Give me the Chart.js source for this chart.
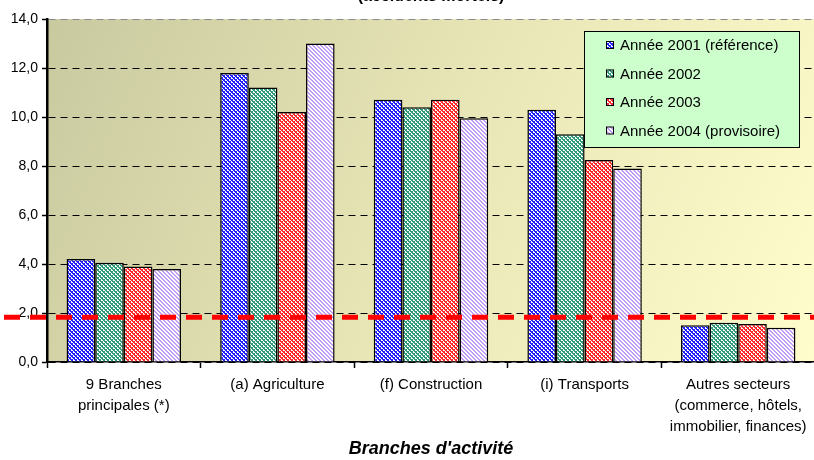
<!DOCTYPE html>
<html>
<head>
<meta charset="utf-8">
<script src="https://cdn.jsdelivr.net/npm/chart.js@4/dist/chart.umd.min.js"></script>
<style>
  html, body { margin: 0; padding: 0; background: #fff; width: 814px; height: 460px; overflow: hidden; }
  #wrap { position: absolute; left: 0; top: -15px; }
</style>
</head>
<body>
<div id="wrap"><canvas id="chart" width="862" height="475"></canvas></div>
<script>
const categories = [
  ['9 Branches', 'principales (*)'],
  '(a) Agriculture',
  '(f) Construction',
  '(i) Transports',
  ['Autres secteurs', '(commerce, hôtels,', 'immobilier, finances)']
];
const seriesNames = ['Année 2001 (référence)', 'Année 2002', 'Année 2003', 'Année 2004 (provisoire)'];
const year2001 = [4.2, 11.8, 10.7, 10.3, 1.5];
const year2002 = [4.05, 11.2, 10.4, 9.3, 1.6];
const year2003 = [3.9, 10.2, 10.7, 8.25, 1.55];
const year2004 = [3.8, 13.0, 9.95, 7.9, 1.4];
const refRate = 1.83;
const yTicks = [0, 2, 4, 6, 8, 10, 12, 14];

const FONT = '"Liberation Sans", Arial, sans-serif';

// small dotted hatch like the old office fills
function hatch(color, dense) {
  const c = document.createElement('canvas');
  c.width = 4; c.height = 4;
  const g = c.getContext('2d');
  g.fillStyle = '#fff';
  g.fillRect(0, 0, 4, 4);
  g.fillStyle = color;
  for (let y = 0; y < 4; y++) {
    for (let x = 0; x < 4; x++) {
      const d = (x - y + 8) % 4;
      if (d === 0 || (d === 1 && (dense || (x + y) % 2 === 1)) || (dense && d === 2 && y % 2 === 0)) {
        g.fillRect(x, y, 1, 1);
      }
    }
  }
  return g.createPattern(c, 'repeat');
}

const fills = [hatch('#2020ff', true), hatch('#2e9a78', true), hatch('#ff2a2a', true), hatch('#c39cf5', false)];
const values = [year2001, year2002, year2003, year2004];

const bgPlugin = {
  id: 'plotBg',
  beforeDraw(chart) {
    const a = chart.chartArea, ctx = chart.ctx;
    const grad = ctx.createLinearGradient(a.left, a.top, a.right, a.bottom);
    grad.addColorStop(0, '#c9c9a0');
    grad.addColorStop(0.5, '#e8e6b6');
    grad.addColorStop(1, '#fffdcc');
    ctx.save();
    ctx.fillStyle = grad;
    ctx.fillRect(a.left, a.top, a.right - a.left, a.bottom - a.top);
    ctx.restore();
  }
};

const refLine = {
  id: 'refLine',
  afterDatasetsDraw(chart) {
    const ctx = chart.ctx;
    const y = chart.scales.y.getPixelForValue(refRate);
    ctx.save();
    ctx.strokeStyle = '#ff0000';
    ctx.lineWidth = 5;
    ctx.setLineDash([16, 10]);
    ctx.beginPath();
    ctx.moveTo(4, y);
    ctx.lineTo(chart.chartArea.right, y);
    ctx.stroke();
    ctx.restore();
  }
};

const boxLegend = {
  id: 'boxLegend',
  afterDraw(chart) {
    const ctx = chart.ctx;
    const x = 584, y = 46, w = 215, h = 116;
    ctx.save();
    ctx.fillStyle = '#ccffcc';
    ctx.fillRect(x, y, w, h);
    ctx.strokeStyle = '#000';
    ctx.lineWidth = 1;
    ctx.strokeRect(x + 0.5, y + 0.5, w, h);
    ctx.font = '15px ' + FONT;
    ctx.textBaseline = 'middle';
    chart.data.datasets.forEach((ds, i) => {
      const cy = y + 14 + i * 28.5;
      ctx.fillStyle = ds.backgroundColor;
      ctx.fillRect(606, cy - 4, 8, 8);
      ctx.strokeStyle = '#000';
      ctx.strokeRect(606.5, cy - 3.5, 7, 7);
      ctx.fillStyle = '#000';
      ctx.fillText(ds.label, 620, cy + 1);
    });
    ctx.restore();
  }
};

new Chart(document.getElementById('chart'), {
  type: 'bar',
  data: {
    labels: categories,
    datasets: seriesNames.map((name, i) => ({
      label: name,
      data: values[i],
      backgroundColor: fills[i],
      borderColor: '#000',
      borderWidth: 1.5,
      borderSkipped: 'bottom',
      categoryPercentage: 0.745,
      barPercentage: 1.0
    }))
  },
  options: {
    responsive: false,
    animation: false,
    devicePixelRatio: 1,
    layout: { padding: { left: 0, right: 47, top: 0, bottom: 0 } },
    plugins: {
      legend: { display: false },
      tooltip: { enabled: false },
      title: {
        display: true,
        fullSize: false,
        text: '(accidents mortels)',
        color: '#000',
        font: { family: FONT, size: 16, weight: 'bold' },
        padding: { top: 2, bottom: 12.8 }
      }
    },
    scales: {
      x: {
        afterFit(scale) { scale.height = 98; },
        grid: { drawOnChartArea: false, offset: true, tickLength: 6, tickColor: '#000', tickWidth: 1.5 },
        border: { color: '#000', width: 1.5 },
        ticks: {
          color: '#000',
          font: { family: FONT, size: 15, lineHeight: 1.4 },
          padding: 6,
          maxRotation: 0,
          autoSkip: false
        },
        title: {
          display: true,
          text: "Branches d'activité",
          color: '#000',
          font: { family: FONT, size: 18, weight: 'bold', style: 'italic' },
          padding: { top: 0, bottom: 0 }
        }
      },
      y: {
        min: 0,
        max: 14,
        afterFit(scale) { scale.width = 47; },
        afterBuildTicks(scale) { scale.ticks = yTicks.map(v => ({ value: v })); },
        grid: {
          color: ctx => (ctx.tick && ctx.tick.value === 14) ? '#8a8a8a' : '#000',
          lineWidth: 1,
          tickLength: 5,
          tickColor: '#000',
          tickWidth: 1.5,
          tickBorderDash: []
        },
        border: { color: '#000', width: 2.5, dash: [7, 5] },
        ticks: {
          color: '#000',
          padding: 4,
          font: { family: FONT, size: 14 },
          callback: v => v.toFixed(1).replace('.', ',')
        }
      }
    }
  },
  plugins: [bgPlugin, refLine, boxLegend]
});
</script>
</body>
</html>
